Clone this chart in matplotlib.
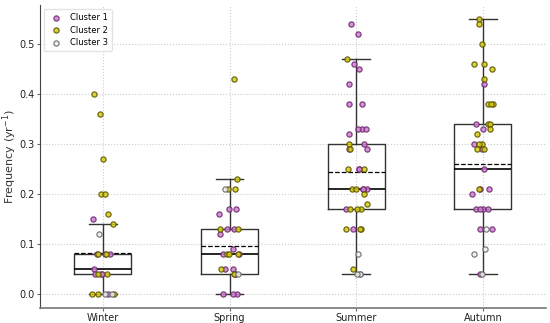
import numpy as np
import matplotlib
matplotlib.use("Agg")
import matplotlib.pyplot as plt

seasons = ["Winter", "Spring", "Summer", "Autumn"]
clusters = ["Cluster 1", "Cluster 2", "Cluster 3"]

winter_c1 = [0.15, 0.08, 0.08, 0.08, 0.05, 0.04, 0.04, 0.04, 0.00]
winter_c2 = [0.40, 0.36, 0.27, 0.20, 0.20, 0.16, 0.14, 0.08, 0.08, 0.04, 0.04, 0.00, 0.00, 0.00]
winter_c3 = [0.12, 0.00, 0.00]

spring_c1 = [0.17, 0.17, 0.16, 0.13, 0.13, 0.12, 0.09, 0.08, 0.08, 0.05, 0.05, 0.04, 0.04, 0.00, 0.00, 0.00]
spring_c2 = [0.43, 0.23, 0.21, 0.21, 0.13, 0.13, 0.08, 0.08, 0.08, 0.05, 0.04]
spring_c3 = [0.21, 0.04]

summer_c1 = [0.54, 0.52, 0.46, 0.45, 0.42, 0.38, 0.38, 0.33, 0.33, 0.33, 0.32, 0.30,
             0.29, 0.29, 0.25, 0.25, 0.21, 0.21, 0.21, 0.17, 0.13]
summer_c2 = [0.47, 0.30, 0.29, 0.25, 0.25, 0.21, 0.21, 0.20, 0.18, 0.17, 0.17, 0.17,
             0.13, 0.13, 0.13, 0.05]
summer_c3 = [0.08, 0.04, 0.04, 0.04]

autumn_c1 = [0.42, 0.34, 0.33, 0.30, 0.29, 0.25, 0.21, 0.21, 0.20, 0.17, 0.17, 0.17,
             0.17, 0.13, 0.13, 0.04]
autumn_c2 = [0.55, 0.54, 0.50, 0.46, 0.46, 0.45, 0.43, 0.38, 0.38, 0.38, 0.34, 0.34,
             0.33, 0.32, 0.30, 0.30, 0.29, 0.29, 0.21]
autumn_c3 = [0.13, 0.09, 0.08, 0.04]

# box statistics per season
box_q1 = [0.04, 0.04, 0.17, 0.17]
box_med = [0.05, 0.08, 0.21, 0.25]
box_q3 = [0.08, 0.13, 0.30, 0.34]
box_mean = [0.081, 0.096, 0.243, 0.260]
box_whislo = [0.00, 0.00, 0.04, 0.04]
box_whishi = [0.14, 0.23, 0.47, 0.55]

data = {
    "Winter": [winter_c1, winter_c2, winter_c3],
    "Spring": [spring_c1, spring_c2, spring_c3],
    "Summer": [summer_c1, summer_c2, summer_c3],
    "Autumn": [autumn_c1, autumn_c2, autumn_c3],
}

face_colors = ["#d27fd6", "#d8cc10", "#f2f2f2"]
edge_colors = ["#6a2a6a", "#5a5400", "#666666"]

fig = plt.figure(figsize=(5.5, 3.23), dpi=100)
ax = fig.add_axes([0.072, 0.047, 0.921, 0.938])

stats = []
for i, s in enumerate(seasons):
    stats.append(dict(label=s, q1=box_q1[i], med=box_med[i], q3=box_q3[i],
                      mean=box_mean[i], whislo=box_whislo[i], whishi=box_whishi[i],
                      fliers=[]))

ax.bxp(stats, positions=range(len(seasons)), widths=0.45, showmeans=True,
       meanline=True, showfliers=False, patch_artist=False,
       boxprops=dict(color="#333333", linewidth=1.0),
       whiskerprops=dict(color="#333333", linewidth=1.0),
       capprops=dict(color="#333333", linewidth=1.0),
       medianprops=dict(color="black", linewidth=1.2),
       meanprops=dict(color="black", linewidth=0.9, linestyle="--"),
       capwidths=0.22, zorder=2)

rng = np.random.default_rng(3)
for i, s in enumerate(seasons):
    for k, vals in enumerate(data[s]):
        vals = np.asarray(vals)
        xs = i + rng.uniform(-0.09, 0.09, size=len(vals))
        ax.scatter(xs, vals, s=14, facecolor=face_colors[k], edgecolor=edge_colors[k],
                   linewidth=0.9, alpha=0.85, zorder=3,
                   label=clusters[k] if i == 0 else None)

ax.set_xlim(-0.5, 3.5)
ax.set_ylim(-0.0275, 0.5775)
ax.set_xticks(range(len(seasons)))
ax.set_xticklabels(seasons, fontsize=7)
ax.set_yticks([0.0, 0.1, 0.2, 0.3, 0.4, 0.5])
ax.set_yticklabels(["0.0", "0.1", "0.2", "0.3", "0.4", "0.5"], fontsize=7)
ax.set_ylabel("Frequency (yr$^{-1}$)", fontsize=8, color="#333333")
ax.yaxis.set_label_coords(-0.04, 0.5)
ax.grid(True, linestyle=":", color="#cccccc", linewidth=0.8)
ax.set_axisbelow(True)
for sp in ["top", "right"]:
    ax.spines[sp].set_visible(False)
ax.spines["left"].set_color("#444444")
ax.spines["bottom"].set_color("#777777")
ax.spines["bottom"].set_linewidth(1.2)
ax.tick_params(axis="both", length=2, color="#666666", labelcolor="#222222", pad=1.5)

leg = ax.legend(loc="upper left", fontsize=6, frameon=True, handletextpad=0.6,
                borderpad=0.5, labelspacing=0.4, markerscale=1.0)
leg.get_frame().set_edgecolor("#dddddd")

fig.savefig("out.png", dpi=100)
